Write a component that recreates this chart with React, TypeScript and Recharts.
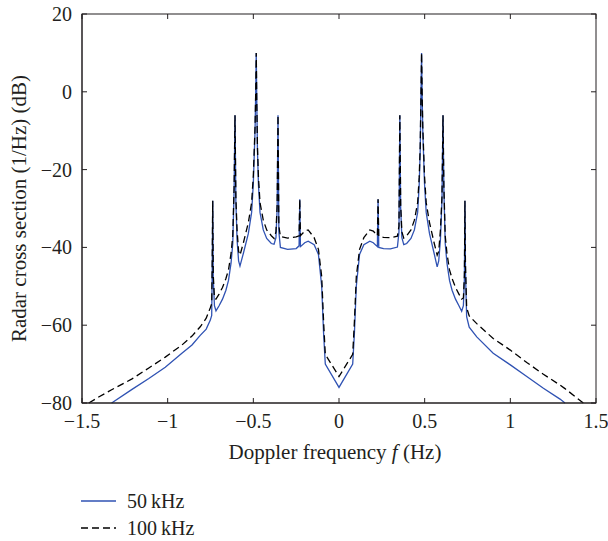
import React from "react";
import { LineChart, Line, XAxis, YAxis } from "recharts";

// Doppler frequency (Hz)
const freqHz = [
  -1.5, -1.46, -1.4, -1.327, -1.208, -1.11, -1.014, -0.917, -0.858, -0.81,
  -0.775, -0.751, -0.743, -0.74, -0.737, -0.734, -0.727, -0.718, -0.7, -0.68,
  -0.66, -0.645, -0.63, -0.62, -0.612, -0.607, -0.602, -0.595, -0.586, -0.578,
  -0.558, -0.529, -0.51, -0.5, -0.49, -0.486, -0.483, -0.48, -0.476, -0.47,
  -0.461, -0.442, -0.422, -0.395, -0.379, -0.368, -0.361, -0.356, -0.351, -0.342,
  -0.3, -0.25, -0.233, -0.229, -0.225, -0.2, -0.18, -0.145, -0.12, -0.101,
  -0.09, -0.08, 0,
  0.08, 0.09, 0.101, 0.12, 0.145, 0.18, 0.2, 0.224, 0.228, 0.232,
  0.26, 0.3, 0.341, 0.35, 0.355, 0.36, 0.367, 0.378, 0.395, 0.42,
  0.44, 0.459, 0.468, 0.474, 0.478, 0.482, 0.485, 0.489, 0.499, 0.509,
  0.528, 0.555, 0.573, 0.582, 0.592, 0.601, 0.607, 0.612, 0.62, 0.63,
  0.645, 0.66, 0.68, 0.7, 0.716, 0.726, 0.732, 0.735, 0.738, 0.745,
  0.76, 0.804, 0.9, 1.0, 1.096, 1.193, 1.29, 1.319, 1.426, 1.5,
];

// radar cross section (dB), 50 kHz; null = below the plotted range
const rcs50kHz = [
  null, null, null, -80, -76.5, -73.7, -70.8, -67.2, -65.1, -62.6,
  -61, -58.7, -57.5, -46, -28, -48, -55, -56.3, -55, -53.3,
  -51, -48.5, -44, -39, -25, -6, -28, -38, -43.5, -44.8,
  -41.5, -36.4, -31, -23.5, -10, 0, 10, -2, -15, -24,
  -31, -35.5, -37.7, -39, -39.2, -37.5, -30, -6, -36, -40,
  -40.5, -40.3, -39.6, -27.6, -39.8, -38.8, -38.4, -39.3, -41.8, -50,
  -62, -70, -76,
  -70, -62, -50, -41.8, -39.3, -38.4, -38.8, -39.8, -27.6, -40,
  -40.3, -40.4, -39.9, -36, -6, -30, -37.5, -39.3, -39, -37.7,
  -35.5, -31, -24, -15, -2, 10, 0, -10, -23.5, -31,
  -36.4, -41.5, -45, -43.5, -38, -28, -6, -25, -39, -44,
  -48.5, -51, -53.3, -55, -56.4, -55, -48, -28, -46, -57.8,
  -60.5, -63, -67.2, -70.2, -73.2, -76.2, -79, -80, null, null,
];

// radar cross section (dB), 100 kHz
const rcs100kHz = [
  null, -80, -78.4, -76.6, -73.8, -71, -68.2, -65.1, -62.8, -60.4,
  -58.2, -55.5, -54.5, -44, -28, -47, -53, -53.3, -52, -50.3,
  -48, -45.8, -41.5, -37, -24, -6, -27, -35.5, -41, -42,
  -38.8, -33.6, -28.5, -21.5, -9, 0, 10, -2, -14, -22,
  -28.5, -33, -35.5, -37, -37.7, -36, -29, -6, -34.5, -37.2,
  -37.6, -37.3, -37, -27.6, -37, -35.8, -35.5, -37.5, -40.5, -47.5,
  -59, -67.5, -73.2,
  -67.5, -59, -47.5, -40.5, -37.5, -35.5, -35.8, -37, -27.6, -37.1,
  -37.4, -37.5, -37.1, -34.5, -6, -29, -36, -37.6, -37, -35.5,
  -33, -28.5, -22, -14, -2, 10, 0, -9, -21.5, -28.5,
  -33.6, -38.8, -42, -41, -35.5, -27, -6, -24, -37, -41.5,
  -45.8, -48, -50.3, -52, -53.3, -53, -47, -28, -44, -55.5,
  -57.6, -59.6, -63.4, -66.4, -69.6, -72.6, -75.4, -76.3, -80, null,
];

const xTicks = [-1.5, -1, -0.5, 0, 0.5, 1, 1.5];
const yTicks = [-80, -60, -40, -20, 0, 20];
const X_MIN = -1.5;
const X_MAX = 1.5;
const Y_MIN = -80;
const Y_MAX = 20;

const data = freqHz.map((f, i) => ({ f, a: rcs50kHz[i], b: rcs100kHz[i] }));

const W = 608;
const H = 541;
const MARGIN = { top: 14, right: 12, bottom: 68, left: 0 };
const Y_AXIS_W = 82;
const X_AXIS_H = 70;
// plot box implied by the margins and axis sizes above
const BOX = {
  left: MARGIN.left + Y_AXIS_W,
  top: MARGIN.top,
  right: W - MARGIN.right,
  bottom: H - MARGIN.bottom - X_AXIS_H,
};

const INK = "#231f20";
const BLUE = "#2f52b3";
const FONT = '"Liberation Serif", "Times New Roman", Times, serif';
const txt = { fontFamily: FONT, fontSize: 20 };
const title = { fontFamily: FONT, fontSize: 21 };
const fmt = (v: number) => String(v).replace("-", "\u2212");
const TICK = 5;

function BottomTick({ x, y, payload }: any) {
  return (
    <text x={x} y={y + 25} textAnchor="middle" fill={INK} style={txt}>
      {fmt(payload.value)}
    </text>
  );
}

function LeftTick({ x, y, payload }: any) {
  return (
    <text x={x - 10} y={y + 7} textAnchor="end" fill={INK} style={txt}>
      {fmt(payload.value)}
    </text>
  );
}

function XTitle({ viewBox }: any) {
  const cx = viewBox.x + viewBox.width / 2;
  return (
    <text x={cx - 4} y={viewBox.y + 56} textAnchor="middle" fill={INK} style={title}>
      <tspan>Doppler frequency </tspan>
      <tspan fontStyle="italic">f</tspan>
      <tspan> (Hz)</tspan>
    </text>
  );
}

function YTitle({ viewBox }: any) {
  const cy = viewBox.y + viewBox.height / 2;
  return (
    <text x={26} y={cy} transform={`rotate(-90 26 ${cy})`} textAnchor="middle" fill={INK} style={title}>
      Radar cross section (1/Hz) (dB)
    </text>
  );
}

// MATLAB-style frame: closed box with inward ticks on all four sides
function Frame() {
  const sx = (v: number) => BOX.left + ((v - X_MIN) / (X_MAX - X_MIN)) * (BOX.right - BOX.left);
  const sy = (v: number) => BOX.bottom - ((v - Y_MIN) / (Y_MAX - Y_MIN)) * (BOX.bottom - BOX.top);
  return (
    <svg width={W} height={H} style={{ position: "absolute", left: 0, top: 0, pointerEvents: "none" }}>
      <rect
        x={BOX.left}
        y={BOX.top}
        width={BOX.right - BOX.left}
        height={BOX.bottom - BOX.top}
        fill="none"
        stroke={INK}
      />
      {xTicks.map((v) => (
        <g key={`x${v}`}>
          <line x1={sx(v)} x2={sx(v)} y1={BOX.bottom} y2={BOX.bottom - TICK} stroke={INK} />
          <line x1={sx(v)} x2={sx(v)} y1={BOX.top} y2={BOX.top + TICK} stroke={INK} />
        </g>
      ))}
      {yTicks.map((v) => (
        <g key={`y${v}`}>
          <line x1={BOX.left} x2={BOX.left + TICK} y1={sy(v)} y2={sy(v)} stroke={INK} />
          <line x1={BOX.right} x2={BOX.right - TICK} y1={sy(v)} y2={sy(v)} stroke={INK} />
        </g>
      ))}
    </svg>
  );
}

function LegendBox() {
  return (
    <svg width={200} height={54} style={{ display: "block" }}>
      <line x1={0} x2={35} y1={13} y2={13} stroke={BLUE} strokeWidth={1.3} />
      <text x={46} y={20} fill={INK} style={txt}>
        50{"\u2009"}kHz
      </text>
      <line x1={0} x2={35} y1={40} y2={40} stroke="#000" strokeWidth={1.3} strokeDasharray="7 4" />
      <text x={46} y={47} fill={INK} style={txt}>
        100{"\u2009"}kHz
      </text>
    </svg>
  );
}

export default function App() {
  return (
    <div style={{ position: "absolute", left: 0, top: 0, width: W, height: H, background: "#fff" }}>
      <LineChart width={W} height={H} data={data} margin={MARGIN}>
        <XAxis
          dataKey="f"
          type="number"
          domain={[X_MIN, X_MAX]}
          ticks={xTicks}
          height={X_AXIS_H}
          tickSize={0}
          tickMargin={0}
          tick={<BottomTick />}
          stroke={INK}
          label={<XTitle />}
        />
        <YAxis
          type="number"
          domain={[Y_MIN, Y_MAX]}
          ticks={yTicks}
          width={Y_AXIS_W}
          tickSize={0}
          tickMargin={0}
          tick={<LeftTick />}
          stroke={INK}
          label={<YTitle />}
        />
        <Line
          type="linear"
          dataKey="a"
          name="50 kHz"
          stroke={BLUE}
          strokeWidth={1.3}
          dot={false}
          isAnimationActive={false}
        />
        <Line
          type="linear"
          dataKey="b"
          name="100 kHz"
          stroke="#000"
          strokeWidth={1.3}
          strokeDasharray="7 4"
          dot={false}
          isAnimationActive={false}
        />
      </LineChart>
      <Frame />
      <div style={{ position: "absolute", left: 81, top: 488 }}>
        <LegendBox />
      </div>
    </div>
  );
}
